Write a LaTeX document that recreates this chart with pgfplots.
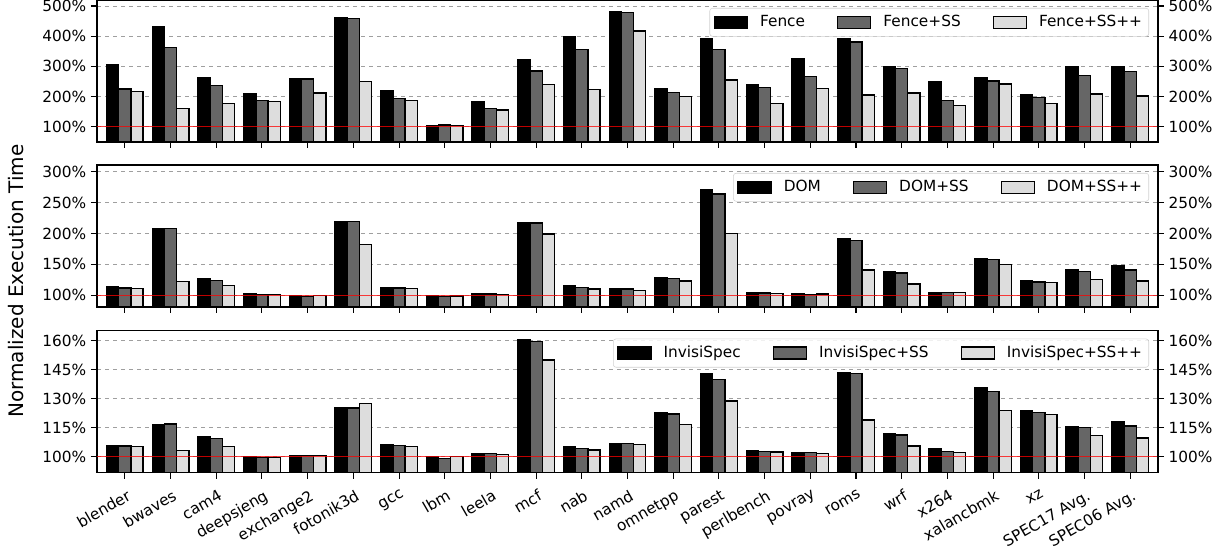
\documentclass[border=0pt]{standalone}
\usepackage{fontspec}
\setmainfont{DejaVu Sans}
\usepackage{pgfplots}
\usepackage{pgfplotstable}
\pgfplotsset{compat=1.18}
\definecolor{dg}{HTML}{666666}
\definecolor{lg}{HTML}{DDDDDD}

\pgfplotstableread{
x a b c
0 304 225 216
1 431 362 161
2 262 236 177
3 210 186 183
4 260 258 212
5 462 459 249
6 219 194 186
7 104 106 104
8 183 161 155
9 323 285 239
10 398 356 223
11 481 478 417
12 227 213 200
13 393 356 255
14 239 229 176
15 324 266 227
16 392 381 205
17 299 292 212
18 250 186 171
19 264 252 241
20 205 197 176
21 298 270 208
22 300 282 202
}\fence

\pgfplotstableread{
x a b c
0 113.5 112 111
1 208 208.6 122.7
2 127 124 115.7
3 102 101.6 101.6
4 99 98.4 100
5 219 219 182
6 113 112 111
7 99 98.5 99
8 102 102 101.6
9 218 217 199.5
10 115.7 113 110
11 110 110 107.6
12 128 127 123
13 271 264 200
14 103.8 103.8 103
15 102.7 101.6 102
16 191 189 141
17 138 136 118
18 105 104 104
19 159.5 158 150
20 124 121.6 121
21 141 139 125
22 147.6 141 123
}\dom

\pgfplotstableread{
x a b c
0 105.9 105.5 105.2
1 116.7 116.9 103.1
2 110.5 109.5 105.2
3 99.8 99.7 99.7
4 100.3 100.5 100.7
5 125.5 125.2 127.6
6 106 105.7 105.2
7 99.8 99.1 100
8 101.4 101.7 101
9 160.3 159.5 150
10 105 104.1 103.4
11 106.9 106.7 106.4
12 122.8 122 116.6
13 143.1 139.8 128.8
14 103.1 102.6 102.4
15 102.1 102.1 101.6
16 143.6 142.9 119
17 112.1 111.2 105.5
18 104 102.8 102.1
19 135.9 133.8 124
20 124 122.9 121.9
21 115.7 115 110.9
22 118.3 115.9 109.7
}\invis

\pgfplotsset{
  base/.style={
    scale only axis, width=795.75pt, height=106.5pt,
    xmin=-0.61, xmax=22.61,
    tick align=outside, major tick length=4.5pt,
    tick style={black, line width=0.8pt},
    axis line style={line width=1pt},
    /pgf/number format/assume math mode=true,
    tick label style={font=\fontsize{11.5}{13}\selectfont},
    yticklabel={\pgfmathprintnumber{\tick}\%},
  },
  panel/.style={
    base,
    ybar, bar width=0.2667,
    xtick={0,...,22}, xtick pos=left, ytick pos=left,
    ymajorgrids, major grid style={dashed, gray!75, line width=0.5pt},
    legend style={at={(1,1)}, xshift=-6.75pt, yshift=-6pt, anchor=north east,
      draw=gray!35, rounded corners=2pt, fill=white, fill opacity=0.85, text opacity=1,
      font=\fontsize{11.5}{13}\selectfont, legend columns=3,
      inner ysep=3.5pt, inner xsep=3pt,
      /tikz/every odd column/.append style={column sep=7pt},
      /tikz/every even column/.append style={column sep=22pt}},
    legend image code/.code={\draw[##1, fill opacity=1, draw opacity=1, sharp corners] (0pt,-4.5pt) rectangle (24.75pt,4.5pt);},
  },
  rside/.style={
    base, hide x axis, axis y line*=right, yticklabel pos=right,
  },
  s1/.style={fill=black, draw=black, line width=1pt, bar shift=-0.2667},
  s2/.style={fill=dg, draw=black, line width=1pt, bar shift=0},
  s3/.style={fill=lg, draw=black, line width=1pt, bar shift=0.2667},
  redline/.style={sharp plot, red, opacity=0.75, line width=1pt, no marks, forget plot},
}

\begin{document}
\begin{tikzpicture}
\path[use as bounding box] (-72.75pt,0pt) rectangle (849pt,-414pt);

% Panel 1
\begin{axis}[panel, at={(0pt,0pt)}, anchor=north west, ymin=49.3, ymax=520,
  ytick={100,200,300,400,500}, xticklabels={}]
\addplot[s1] table[x=x,y=a]{\fence};
\addplot[s2] table[x=x,y=b]{\fence};
\addplot[s3] table[x=x,y=c]{\fence};
\addplot[redline] coordinates {(-1,100) (23,100)};
\legend{Fence, Fence+SS, Fence+SS++}
\end{axis}
\begin{axis}[rside, at={(0pt,0pt)}, anchor=north west, ymin=49.3, ymax=520,
  ytick={100,200,300,400,500}]
\end{axis}

% Panel 2
\begin{axis}[panel, at={(0pt,-123.75pt)}, anchor=north west, ymin=81, ymax=311,
  ytick={100,150,200,250,300}, xticklabels={}]
\addplot[s1] table[x=x,y=a]{\dom};
\addplot[s2] table[x=x,y=b]{\dom};
\addplot[s3] table[x=x,y=c]{\dom};
\addplot[redline] coordinates {(-1,100) (23,100)};
\legend{DOM, DOM+SS, DOM+SS++}
\end{axis}
\begin{axis}[rside, at={(0pt,-123.75pt)}, anchor=north west, ymin=81, ymax=311,
  ytick={100,150,200,250,300}]
\end{axis}

% Panel 3
\begin{axis}[panel, at={(0pt,-248pt)}, anchor=north west, ymin=91.7, ymax=165.2,
  ytick={100,115,130,145,160},
  xticklabels={blender,bwaves,cam4,deepsjeng,exchange2,fotonik3d,gcc,lbm,leela,mcf,nab,namd,omnetpp,parest,perlbench,povray,roms,wrf,x264,xalancbmk,xz,SPEC17 Avg.,SPEC06 Avg.},
  xticklabel style={rotate=30, anchor=north east, inner sep=1pt, yshift=-6pt, xshift=-2pt}]
\addplot[s1] table[x=x,y=a]{\invis};
\addplot[s2] table[x=x,y=b]{\invis};
\addplot[s3] table[x=x,y=c]{\invis};
\addplot[redline] coordinates {(-1,100) (23,100)};
\legend{InvisiSpec, InvisiSpec+SS, InvisiSpec+SS++}
\end{axis}
\begin{axis}[rside, at={(0pt,-248pt)}, anchor=north west, ymin=91.7, ymax=165.2,
  ytick={100,115,130,145,160}]
\end{axis}

\node[rotate=90, font=\fontsize{15}{18}\selectfont] at (-61pt,-210.75pt) {Normalized Execution Time};
\end{tikzpicture}
\end{document}
